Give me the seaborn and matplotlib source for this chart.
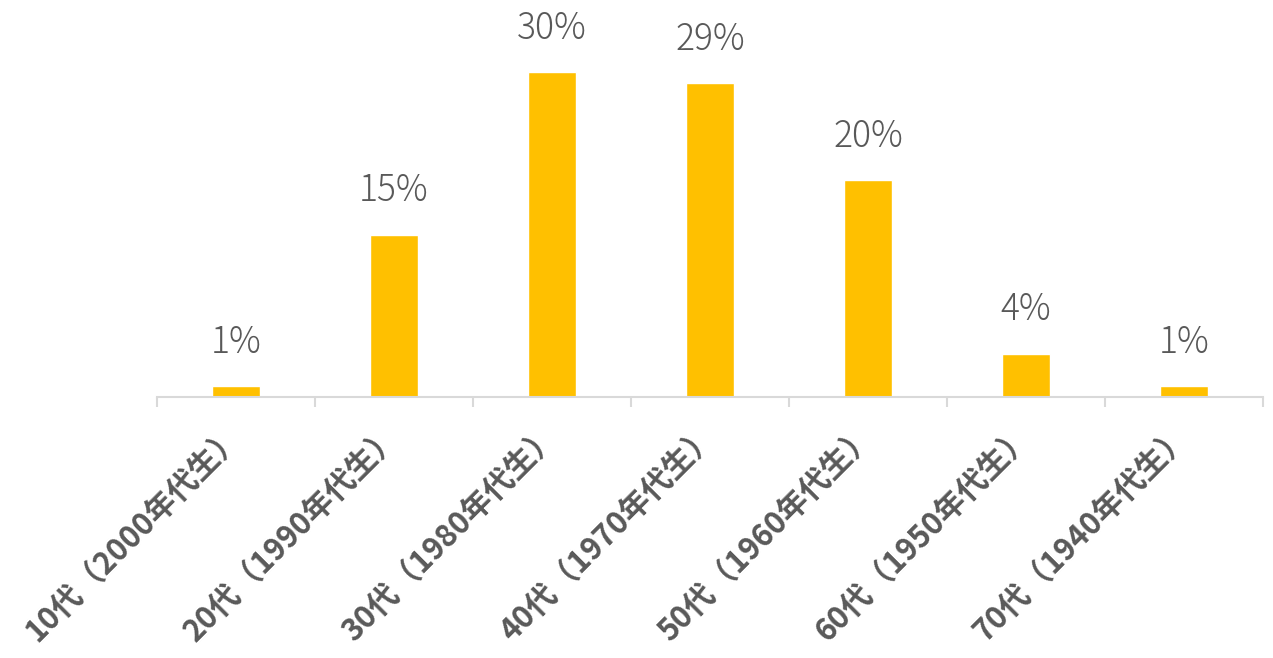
import matplotlib
matplotlib.use('Agg')
import matplotlib.pyplot as plt
import matplotlib.transforms as mtransforms
import numpy as np
import pandas as pd
import seaborn as sns

# data
ages = ['10代', '20代', '30代', '40代', '50代', '60代', '70代']
births = ['2000', '1990', '1980', '1970', '1960', '1950', '1940']
shares = [1, 15, 30, 29, 20, 4, 1]

labels = ['{}（{}年代生）'.format(a, b) for a, b in zip(ages, births)]

BAR = '#FFC000'
TEXT = '#595959'
AXIS = '#D9D9D9'

sns.set_theme(style='white')
plt.rcParams['font.family'] = ['Noto Sans CJK JP', 'DejaVu Sans']

df = pd.DataFrame({'label': labels, 'share': shares})

fig = plt.figure(figsize=(12.73, 6.58), dpi=100)
ax = fig.add_axes([157 / 1273, 261 / 658, 1106 / 1273, 397 / 658])

sns.barplot(data=df, x='label', y='share', color=BAR, width=0.31,
            saturation=1, ax=ax)

for i, v in enumerate(shares):
    ax.annotate('{}%'.format(v), xy=(i, v), xytext=(0, 24),
                textcoords='offset points', ha='center', va='baseline',
                fontsize=25.5, color=TEXT, fontweight='light')

ax.set_ylim(0, 36.65)
ax.set_xlim(-0.5, len(shares) - 0.5)
ax.set_xlabel('')
ax.set_ylabel('')
ax.set_yticks([])

for side in ('top', 'right', 'left'):
    ax.spines[side].set_visible(False)
ax.spines['bottom'].set_color(AXIS)
ax.spines['bottom'].set_linewidth(1.5)

ax.set_xticks(range(len(labels)))
ax.set_xticklabels(labels, rotation=45, ha='right', rotation_mode='anchor',
                   fontsize=22, fontweight='bold', color=TEXT)
ax.tick_params(axis='x', which='major', length=0, pad=16)
shift = mtransforms.ScaledTranslation(-10 / 100, 0, fig.dpi_scale_trans)
for t in ax.get_xticklabels():
    t.set_transform(t.get_transform() + shift)
ax.set_xticks(np.arange(-0.5, len(labels)), minor=True)
ax.tick_params(axis='x', which='minor', length=7.5, width=1.5, color=AXIS,
               direction='out', bottom=True)

fig.savefig('out.png', dpi=100)
